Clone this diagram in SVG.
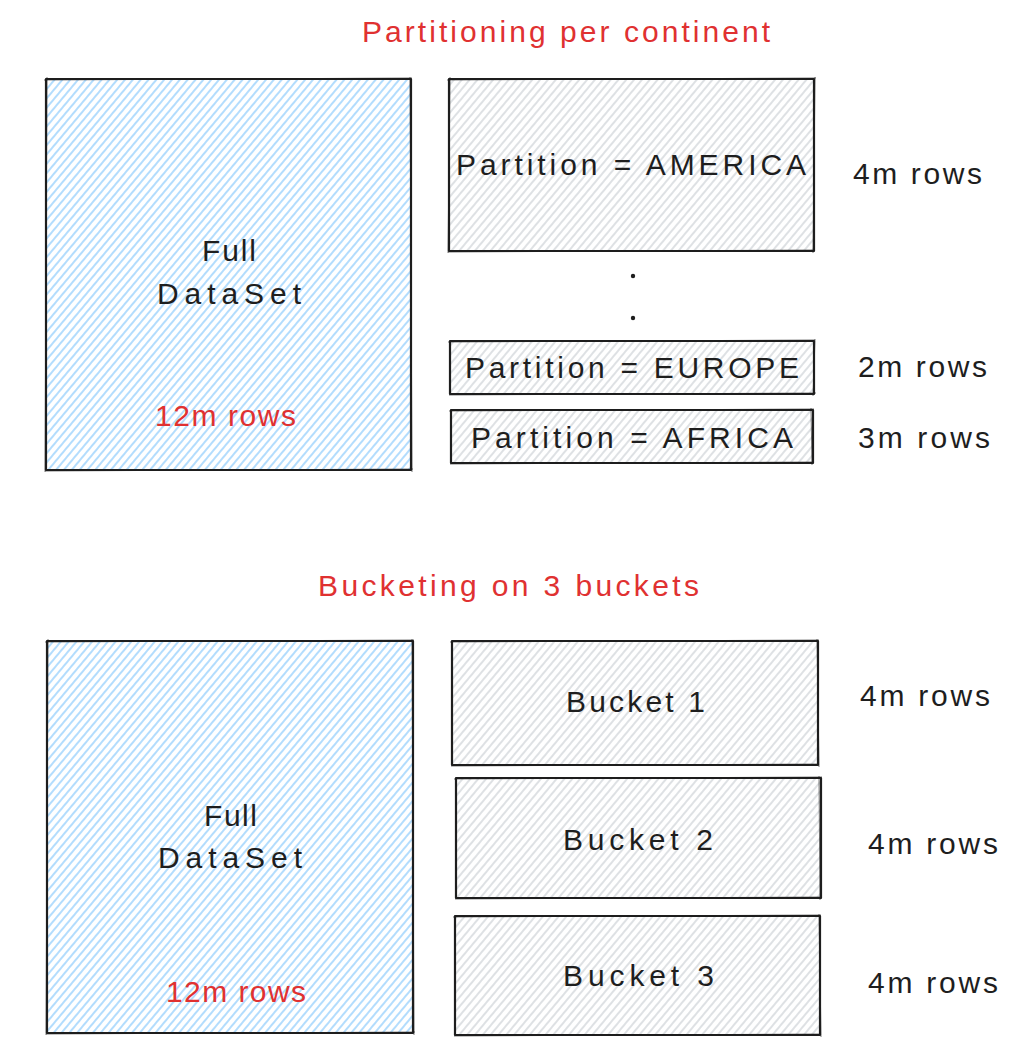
<svg xmlns="http://www.w3.org/2000/svg" width="1024" height="1060" viewBox="0 0 1024 1060">
  <defs>
    <pattern id="hBlue" width="6" height="6" patternUnits="userSpaceOnUse" patternTransform="rotate(40)">
      <line x1="3" y1="0" x2="3" y2="6" stroke="#74c0fc" stroke-width="1.1"/>
    </pattern>
    <pattern id="hGray" width="6" height="6" patternUnits="userSpaceOnUse" patternTransform="rotate(40)">
      <line x1="3" y1="0" x2="3" y2="6" stroke="#c3c8ce" stroke-width="1.1"/>
    </pattern>
    <style>
      .box { stroke: #1e1e1e; stroke-width: 2.2; stroke-linejoin: round; }
      .edge { fill: none; stroke: #1e1e1e; stroke-width: 1; opacity: 0.6; }
      .blue { fill: url(#hBlue); }
      .gray { fill: url(#hGray); }
      text { font-family: "Liberation Sans", "DejaVu Sans", sans-serif; font-size: 30px; fill: #1e1e1e; dominant-baseline: central; }
      .red { fill: #e03131; }
    </style>
  </defs>
  <rect width="1024" height="1060" fill="#ffffff"/>

  <g id="title-partition"><text class="red" x="362" y="31" textLength="408" lengthAdjust="spacing">Partitioning per continent</text></g>

  <g id="full-dataset-1">
    <rect class="box blue" x="46" y="79" width="365" height="391"/>
    <path class="edge" d="M44 80 L412 78 M410 77 L412 472 M45 471 L413 469 M47 77 L45 472"/>
    <text x="202" y="250" textLength="54" lengthAdjust="spacing">Full</text>
    <text x="157" y="293" textLength="144" lengthAdjust="spacing">DataSet</text>
    <text class="red" x="155" y="415" textLength="141" lengthAdjust="spacing">12m rows</text>
  </g>

  <g id="partition-america">
    <rect class="box gray" x="449" y="79" width="365" height="172"/>
    <path class="edge" d="M447 80 L816 78 M815 77 L813 253 M448 252 L815 250 M450 77 L448 253"/>
    <text x="456" y="164" textLength="350" lengthAdjust="spacing">Partition = AMERICA</text>
  </g>
  <g id="label-america"><text x="853" y="173" textLength="129" lengthAdjust="spacing">4m rows</text></g>

  <g id="dots">
    <circle cx="633" cy="276" r="2.2" fill="#1e1e1e"/>
    <circle cx="633" cy="318" r="2.2" fill="#1e1e1e"/>
  </g>

  <g id="partition-europe">
    <rect class="box gray" x="450" y="341" width="364" height="53"/>
    <path class="edge" d="M448 342 L815 340 M815 339 L813 396 M449 395 L816 393"/>
    <text x="465" y="367" textLength="334" lengthAdjust="spacing">Partition = EUROPE</text>
  </g>
  <g id="label-europe"><text x="858" y="366" textLength="129" lengthAdjust="spacing">2m rows</text></g>

  <g id="partition-africa">
    <rect class="box gray" x="451" y="410" width="362" height="53"/>
    <path class="edge" d="M449 411 L814 409 M811 408 L812 465 M450 464 L814 462"/>
    <text x="471" y="437" textLength="322" lengthAdjust="spacing">Partition = AFRICA</text>
  </g>
  <g id="label-africa"><text x="858" y="437" textLength="132" lengthAdjust="spacing">3m rows</text></g>

  <g id="title-bucket"><text class="red" x="318" y="585" textLength="381" lengthAdjust="spacing">Bucketing on 3 buckets</text></g>

  <g id="full-dataset-2">
    <rect class="box blue" x="47" y="641" width="366" height="392"/>
    <path class="edge" d="M45 642 L414 640 M412 639 L414 1035 M46 1034 L415 1032 M48 639 L46 1035"/>
    <text x="204" y="815" textLength="53" lengthAdjust="spacing">Full</text>
    <text x="158" y="857" textLength="144" lengthAdjust="spacing">DataSet</text>
    <text class="red" x="166" y="991" textLength="140" lengthAdjust="spacing">12m rows</text>
  </g>

  <g id="bucket-1">
    <rect class="box gray" x="452" y="641" width="366" height="124"/>
    <path class="edge" d="M450 642 L819 640 M817 639 L819 767 M451 766 L819 764"/>
    <text x="566" y="701" textLength="139" lengthAdjust="spacing">Bucket 1</text>
  </g>
  <g id="label-bucket-1"><text x="860" y="695" textLength="130" lengthAdjust="spacing">4m rows</text></g>

  <g id="bucket-2">
    <rect class="box gray" x="456" y="778" width="365" height="120"/>
    <path class="edge" d="M454 779 L822 777 M819 776 L820 900 M455 899 L822 897"/>
    <text x="563" y="839" textLength="150" lengthAdjust="spacing">Bucket 2</text>
  </g>
  <g id="label-bucket-2"><text x="868" y="843" textLength="130" lengthAdjust="spacing">4m rows</text></g>

  <g id="bucket-3">
    <rect class="box gray" x="455" y="916" width="365" height="119"/>
    <path class="edge" d="M453 917 L821 915 M819 914 L821 1037 M454 1036 L821 1034"/>
    <text x="563" y="975" textLength="151" lengthAdjust="spacing">Bucket 3</text>
  </g>
  <g id="label-bucket-3"><text x="868" y="982" textLength="130" lengthAdjust="spacing">4m rows</text></g>

  <g id="connectors"></g>
</svg>
